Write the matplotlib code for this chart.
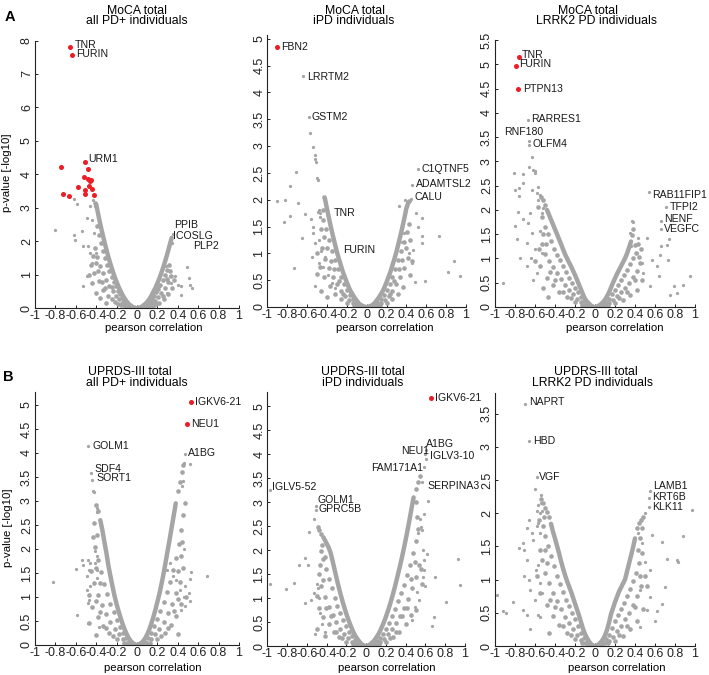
import matplotlib
matplotlib.use("Agg")
import matplotlib.pyplot as plt

plt.rcParams['font.family'] = ['Liberation Sans', 'DejaVu Sans']

# ---------------- data ----------------
x_ticks = [-1, -0.8, -0.6, -0.4, -0.2, 0, 0.2, 0.4, 0.6, 0.8, 1]
x_tick_labels = ['-1', '-0.8', '-0.6', '-0.4', '-0.2', '0', '0.2', '0.4', '0.6', '0.8', '1']

# ---- Panel A1: MoCA total, all PD+ ----
A1_red = [(-0.652, 7.82), (-0.638, 7.57), (-0.511, 4.38), (-0.746, 4.23), (-0.726, 3.42),
          (-0.668, 3.35), (-0.583, 3.63), (-0.521, 3.91), (-0.482, 4.17), (-0.479, 3.86),
          (-0.453, 3.83), (-0.469, 3.64), (-0.446, 3.56), (-0.42, 3.38), (-0.511, 3.54),
          (-0.511, 3.40), (-0.463, 3.79)]
A1_grey_out = [(-0.805, 2.34), (-0.619, 3.26), (-0.586, 3.12), (-0.619, 2.19), (-0.609, 2.04),
               (-0.537, 2.29), (-0.534, 0.65), (-0.489, 2.69), (-0.463, 3.04), (-0.446, 2.64),
               (-0.479, 1.84), (-0.489, 0.95), (-0.436, 3.24), (-0.528, 1.84), (-0.456, 1.64),
               (-0.423, 2.24), (-0.404, 1.64), (-0.446, 1.34), (-0.381, 2.69), (-0.414, 3.04),
               (0.28, 1.25), (0.335, 0.75), (0.375, 0.95), (0.40, 0.70), (0.433, 0.67),
               (0.427, 0.40), (0.489, 1.22), (0.508, 0.90), (0.541, 0.60), (0.52, 0.70),
               (0.32, 0.95), (0.22, 0.65), (0.29, 0.45), (0.35, 2.2), (0.33, 2.05), (0.34, 1.95)]
A1_edge_left = [(-0.01, 0.0), (-0.04, 0.03), (-0.06, 0.07), (-0.08, 0.12), (-0.10, 0.19),
                (-0.12, 0.28), (-0.14, 0.38), (-0.16, 0.50), (-0.18, 0.63), (-0.20, 0.78),
                (-0.22, 0.94), (-0.24, 1.12), (-0.26, 1.31), (-0.28, 1.52), (-0.30, 1.75),
                (-0.32, 1.99), (-0.34, 2.24), (-0.36, 2.51), (-0.38, 2.80), (-0.40, 3.10)]
A1_band_left = [(-0.41, 3.15),
                (-0.05, 0.02), (-0.07, 0.05), (-0.09, 0.09), (-0.11, 0.15), (-0.13, 0.22),
                (-0.15, 0.31), (-0.17, 0.41), (-0.19, 0.52), (-0.21, 0.65), (-0.23, 0.79),
                (-0.25, 0.94), (-0.27, 1.11), (-0.29, 1.29), (-0.31, 1.49), (-0.33, 1.70),
                (-0.35, 1.93), (-0.37, 2.17), (-0.39, 2.45),
                (-0.09, 0.04), (-0.12, 0.09), (-0.15, 0.16), (-0.18, 0.26), (-0.21, 0.37),
                (-0.24, 0.50), (-0.27, 0.66), (-0.30, 0.84), (-0.33, 1.04), (-0.36, 1.27),
                (-0.39, 1.52), (-0.41, 1.80),
                (-0.16, 0.08), (-0.22, 0.18), (-0.28, 0.35), (-0.33, 0.55), (-0.37, 0.80),
                (-0.42, 1.05), (-0.45, 1.30), (-0.40, 0.45), (-0.30, 0.15), (-0.36, 0.30),
                (-0.44, 0.75), (-0.47, 1.00),
                (-0.07, 0.01), (-0.12, 0.04), (-0.19, 0.13), (-0.25, 0.28), (-0.31, 0.60),
                (-0.34, 0.78), (-0.38, 1.10), (-0.40, 1.35), (-0.43, 1.55), (-0.25, 0.62)]
A1_edge_right = [(0.01, 0.0), (0.04, 0.03), (0.06, 0.07), (0.08, 0.12), (0.10, 0.18),
                 (0.12, 0.26), (0.14, 0.36), (0.16, 0.48), (0.18, 0.60), (0.20, 0.74),
                 (0.22, 0.89), (0.24, 1.06), (0.26, 1.24), (0.28, 1.44), (0.30, 1.65),
                 (0.32, 1.88), (0.34, 2.10)]
A1_band_right = [(0.05, 0.02), (0.07, 0.05), (0.09, 0.09), (0.11, 0.14), (0.13, 0.20),
                 (0.15, 0.28), (0.17, 0.37), (0.19, 0.47), (0.21, 0.58), (0.23, 0.70),
                 (0.25, 0.83), (0.27, 0.98), (0.29, 1.14), (0.31, 1.30),
                 (0.09, 0.04), (0.12, 0.08), (0.15, 0.14), (0.18, 0.22), (0.21, 0.32),
                 (0.24, 0.45), (0.27, 0.60), (0.30, 0.78), (0.33, 0.95),
                 (0.16, 0.06), (0.22, 0.15), (0.26, 0.28), (0.30, 0.42), (0.34, 0.60), (0.36, 0.85),
                 (0.07, 0.01), (0.12, 0.03), (0.19, 0.12), (0.25, 0.35), (0.29, 0.88), (0.32, 1.10)]
A1_labels = ['TNR', 'FURIN', 'URM1', 'PPIB', 'ICOSLG', 'PLP2']

# ---- Panel A2: MoCA total, iPD ----
A2_red = [(-0.899, 4.84)]
A2_grey_out = [(-0.638, 4.30), (-0.58, 3.54), (-0.57, 3.25), (-0.537, 2.99), (-0.52, 2.84),
               (-0.517, 2.76), (-0.513, 2.70), (-0.503, 2.40), (-0.493, 2.37), (-0.715, 2.51),
               (-0.772, 2.26), (-0.9, 1.97), (-0.822, 2.0), (-0.695, 1.94), (-0.772, 1.69),
               (-0.829, 1.58), (-0.621, 1.74), (-0.654, 1.29), (-0.732, 0.73), (-0.547, 0.94),
               (-0.52, 0.40), (-0.487, 1.78), (-0.544, 1.49), (-0.537, 1.38), (-0.52, 1.19),
               (-0.56, 1.64), (-0.47, 1.75), (-0.475, 1.80), (-0.472, 1.68), (-0.48, 1.25),
               (-0.48, 0.82), (-0.455, 1.05), (-0.42, 0.94), (-0.44, 0.75), (-0.39, 0.60),
               (-0.35, 0.45), (-0.32, 0.35),
               (0.52, 2.57), (0.46, 2.28), (0.443, 2.01), (0.326, 1.88), (0.386, 2.0),
               (0.403, 1.88), (0.493, 1.75), (0.554, 1.66), (0.513, 1.5), (0.554, 1.33),
               (0.554, 1.19), (0.728, 1.32), (0.883, 0.85), (0.815, 0.66), (0.94, 0.58),
               (0.47, 1.07), (0.426, 1.0), (0.453, 0.82), (0.487, 0.46), (0.587, 0.48),
               (0.352, 1.22), (0.38, 1.38)]
A2_edge_left = [(-0.01, 0.0), (-0.04, 0.02), (-0.06, 0.04), (-0.08, 0.07), (-0.10, 0.12),
                (-0.12, 0.17), (-0.14, 0.23), (-0.16, 0.29), (-0.18, 0.37), (-0.20, 0.46),
                (-0.22, 0.56), (-0.24, 0.66), (-0.26, 0.78), (-0.28, 0.90), (-0.30, 1.03),
                (-0.32, 1.18), (-0.34, 1.33), (-0.36, 1.49), (-0.38, 1.66), (-0.40, 1.84),
                (-0.42, 2.02)]
A2_band_left = [(-0.43, 2.05),
                (-0.05, 0.01), (-0.08, 0.04), (-0.11, 0.08), (-0.14, 0.14), (-0.17, 0.22),
                (-0.20, 0.31), (-0.23, 0.42), (-0.26, 0.55), (-0.29, 0.70), (-0.32, 0.87),
                (-0.35, 1.05), (-0.38, 1.25), (-0.41, 1.45), (-0.44, 1.62),
                (-0.10, 0.03), (-0.14, 0.07), (-0.18, 0.13), (-0.22, 0.20), (-0.26, 0.30),
                (-0.30, 0.42), (-0.34, 0.56), (-0.38, 0.72), (-0.42, 0.90), (-0.45, 1.10),
                (-0.20, 0.08), (-0.26, 0.14), (-0.32, 0.25), (-0.37, 0.40), (-0.43, 0.55),
                (-0.47, 0.75), (-0.50, 0.62), (-0.46, 0.30), (-0.40, 0.18), (-0.50, 1.00),
                (-0.07, 0.01), (-0.13, 0.04), (-0.24, 0.24), (-0.28, 0.48), (-0.33, 0.70),
                (-0.36, 0.85), (-0.40, 1.10), (-0.43, 1.30), (-0.44, 1.80), (-0.46, 1.45)]
A2_edge_right = [(0.01, 0.0), (0.04, 0.02), (0.06, 0.04), (0.08, 0.07), (0.10, 0.12),
                 (0.12, 0.17), (0.14, 0.23), (0.16, 0.29), (0.18, 0.37), (0.20, 0.46),
                 (0.22, 0.56), (0.24, 0.66), (0.26, 0.78), (0.28, 0.90), (0.30, 1.03),
                 (0.32, 1.18), (0.34, 1.33), (0.36, 1.49), (0.38, 1.66), (0.40, 1.84),
                 (0.42, 1.95)]
A2_band_right = [(0.43, 1.98),
                 (0.05, 0.01), (0.08, 0.04), (0.11, 0.08), (0.14, 0.14), (0.17, 0.22),
                 (0.20, 0.31), (0.23, 0.42), (0.26, 0.55), (0.29, 0.70), (0.32, 0.87),
                 (0.35, 1.05), (0.38, 1.22), (0.41, 1.40),
                 (0.10, 0.03), (0.14, 0.07), (0.18, 0.13), (0.22, 0.20), (0.26, 0.30),
                 (0.30, 0.42), (0.34, 0.56), (0.38, 0.72), (0.42, 0.92),
                 (0.20, 0.08), (0.26, 0.14), (0.32, 0.25), (0.37, 0.38), (0.44, 0.60), (0.46, 0.85),
                 (0.07, 0.01), (0.13, 0.04), (0.24, 0.24), (0.28, 0.48), (0.33, 0.70),
                 (0.36, 0.88), (0.40, 1.10), (0.43, 1.55), (0.44, 1.25)]
A2_labels = ['FBN2', 'LRRTM2', 'GSTM2', 'TNR', 'FURIN', 'C1QTNF5', 'ADAMTSL2', 'CALU']

# ---- Panel A3: MoCA total, LRRK2 PD ----
A3_red = [(-0.76, 5.16), (-0.793, 4.97), (-0.767, 4.49)]
A3_grey_out = [(-0.667, 3.85), (-0.657, 3.41), (-0.657, 3.33), (-0.627, 3.1), (-0.663, 2.89),
               (-0.723, 2.74), (-0.617, 2.83), (-0.6, 2.8), (-0.605, 2.77), (-0.81, 2.76),
               (-0.8, 2.41), (-0.76, 2.45), (-0.723, 2.55), (-0.757, 2.28), (-0.633, 2.41),
               (-0.567, 2.48), (-0.583, 2.35), (-0.55, 2.31), (-0.567, 2.21), (-0.773, 1.95),
               (-0.717, 1.81), (-0.8, 1.66), (-0.65, 1.93), (-0.667, 1.73), (-0.633, 1.52),
               (-0.783, 1.40), (-0.683, 1.32), (-0.75, 1.01), (-0.643, 1.01), (-0.917, 0.49),
               (-0.683, 0.84), (-0.583, 0.70), (-0.533, 1.11), (-0.55, 1.56), (-0.517, 2.04),
               (-0.533, 1.93), (-0.6, 1.2), (-0.62, 0.55),
               (0.543, 2.36), (0.71, 2.06), (0.657, 1.78), (0.657, 1.60), (0.373, 1.78),
               (0.38, 1.76), (0.35, 1.52), (0.357, 1.25), (0.517, 1.42), (0.433, 1.42),
               (0.66, 1.25), (0.743, 1.40), (0.723, 1.28), (0.65, 1.08), (0.733, 0.97),
               (0.573, 0.97), (0.623, 0.84), (0.643, 0.63), (0.883, 0.46), (0.79, 0.44),
               (0.75, 0.25), (0.823, 0.29), (0.95, 0.63), (0.55, 0.43), (0.483, 0.70),
               (0.467, 0.91), (0.417, 1.11)]
A3_edge_left = [(-0.01, 0.0), (-0.04, 0.03), (-0.06, 0.07), (-0.08, 0.11), (-0.10, 0.17),
                (-0.12, 0.26), (-0.14, 0.36), (-0.16, 0.46), (-0.18, 0.56), (-0.20, 0.66),
                (-0.22, 0.75), (-0.24, 0.84), (-0.26, 0.92), (-0.28, 1.00), (-0.30, 1.09),
                (-0.32, 1.19), (-0.34, 1.30), (-0.36, 1.40), (-0.38, 1.50), (-0.40, 1.60),
                (-0.42, 1.70), (-0.44, 1.80), (-0.46, 1.90), (-0.48, 2.00)]
A3_band_left = [(-0.50, 2.10), (-0.52, 2.20), (-0.54, 2.27),
                (-0.05, 0.02), (-0.08, 0.06), (-0.11, 0.12), (-0.14, 0.20), (-0.17, 0.30),
                (-0.20, 0.40), (-0.23, 0.50), (-0.26, 0.60), (-0.29, 0.72), (-0.32, 0.84),
                (-0.35, 0.96), (-0.38, 1.08), (-0.41, 1.20), (-0.44, 1.35), (-0.47, 1.50),
                (-0.50, 1.65),
                (-0.10, 0.05), (-0.14, 0.10), (-0.18, 0.17), (-0.22, 0.26), (-0.26, 0.36),
                (-0.30, 0.46), (-0.34, 0.58), (-0.38, 0.70), (-0.42, 0.82), (-0.46, 0.95),
                (-0.50, 1.10), (-0.53, 1.30),
                (-0.20, 0.10), (-0.28, 0.20), (-0.36, 0.30), (-0.42, 0.45), (-0.48, 0.60),
                (-0.55, 0.85), (-0.47, 0.20), (-0.56, 1.20), (-0.60, 0.95), (-0.52, 0.40),
                (-0.07, 0.01), (-0.13, 0.05), (-0.24, 0.18), (-0.32, 0.30), (-0.40, 0.56),
                (-0.45, 0.72), (-0.49, 1.30), (-0.52, 1.50), (-0.53, 1.85), (-0.57, 2.05)]
A3_edge_right = [(0.01, 0.0), (0.04, 0.03), (0.06, 0.06), (0.08, 0.10), (0.10, 0.15),
                 (0.12, 0.22), (0.14, 0.30), (0.16, 0.40), (0.18, 0.50), (0.20, 0.59),
                 (0.22, 0.68), (0.24, 0.76), (0.26, 0.84), (0.28, 0.92), (0.30, 1.00),
                 (0.32, 1.10), (0.34, 1.22), (0.36, 1.35)]
A3_band_right = [(0.37, 1.48), (0.38, 1.60),
                 (0.05, 0.02), (0.08, 0.05), (0.11, 0.10), (0.14, 0.17), (0.17, 0.26),
                 (0.20, 0.36), (0.23, 0.46), (0.26, 0.56), (0.29, 0.66), (0.32, 0.77),
                 (0.35, 0.88), (0.38, 1.00), (0.41, 1.12),
                 (0.10, 0.04), (0.14, 0.08), (0.18, 0.14), (0.22, 0.22), (0.26, 0.30),
                 (0.30, 0.40), (0.34, 0.50), (0.38, 0.62), (0.42, 0.75), (0.45, 0.90),
                 (0.20, 0.08), (0.28, 0.15), (0.35, 0.25), (0.42, 0.35), (0.47, 0.55),
                 (0.43, 1.30), (0.46, 1.20),
                 (0.07, 0.01), (0.13, 0.05), (0.24, 0.18), (0.32, 0.30), (0.40, 0.56),
                 (0.44, 1.02), (0.40, 1.28)]
A3_labels = ['TNR', 'FURIN', 'PTPN13', 'RARRES1', 'RNF180', 'OLFM4',
             'RAB11FIP1', 'TFPI2', 'NENF', 'VEGFC']

# ---- Panel B1: UPDRS-III total, all PD+ ----
B1_red = [(0.531, 5.07), (0.492, 4.60)]
B1_grey_out = [(0.466, 3.97), (-0.479, 4.14), (-0.453, 3.59), (-0.443, 3.44), (-0.43, 3.21),
               (-0.42, 3.19), (-0.397, 2.85), (-0.397, 2.77), (0.515, 3.77), (0.456, 3.80),
               (0.44, 3.31), (0.45, 3.42), (0.46, 1.99), (0.466, 1.22), (0.515, 1.37),
               (0.46, 1.01), (0.352, 1.43), (0.384, 1.35), (0.417, 1.15), (0.508, 1.08),
               (0.521, 0.91), (0.531, 1.53), (0.684, 1.43), (0.466, 0.82), (0.433, 0.73),
               (0.32, 1.71), (0.29, 1.57), (-0.821, 1.32), (-0.6, 1.58), (-0.528, 1.67),
               (-0.479, 1.78), (-0.463, 1.71), (-0.469, 1.57), (-0.489, 1.43), (-0.463, 1.22),
               (-0.489, 1.15), (-0.469, 0.94), (-0.479, 0.87), (-0.479, 0.45), (-0.586, 0.63),
               (-0.544, 1.78), (-0.414, 1.95), (-0.397, 1.85), (-0.414, 1.71), (-0.397, 1.57),
               (-0.397, 1.40), (-0.371, 0.38)]
B1_edge_left = [(-0.01, 0.0), (-0.04, 0.04), (-0.06, 0.08), (-0.08, 0.14), (-0.10, 0.22),
                (-0.12, 0.32), (-0.14, 0.43), (-0.16, 0.56), (-0.18, 0.70), (-0.20, 0.85),
                (-0.22, 1.02), (-0.24, 1.22), (-0.26, 1.43), (-0.28, 1.65), (-0.30, 1.92),
                (-0.32, 2.15), (-0.34, 2.40), (-0.36, 2.60)]
B1_band_left = [(-0.38, 2.80), (-0.40, 2.92),
                (-0.05, 0.02), (-0.08, 0.07), (-0.11, 0.15), (-0.14, 0.25), (-0.17, 0.38),
                (-0.20, 0.52), (-0.23, 0.68), (-0.26, 0.86), (-0.29, 1.06), (-0.32, 1.28),
                (-0.35, 1.52), (-0.38, 1.78), (-0.41, 2.05), (-0.43, 2.25),
                (-0.10, 0.05), (-0.14, 0.12), (-0.18, 0.22), (-0.22, 0.34), (-0.26, 0.48),
                (-0.30, 0.64), (-0.34, 0.84), (-0.38, 1.05), (-0.42, 1.30), (-0.45, 1.55),
                (-0.20, 0.12), (-0.27, 0.25), (-0.33, 0.40), (-0.38, 0.58), (-0.44, 0.80),
                (-0.47, 1.05), (-0.40, 0.20), (-0.47, 0.45),
                (-0.07, 0.01), (-0.13, 0.05), (-0.24, 0.18), (-0.30, 0.35), (-0.36, 0.68),
                (-0.40, 0.92), (-0.36, 1.30), (-0.40, 1.60), (-0.39, 2.30), (-0.42, 2.55)]
B1_edge_right = [(0.01, 0.0), (0.04, 0.04), (0.06, 0.08), (0.08, 0.14), (0.10, 0.22),
                 (0.12, 0.32), (0.14, 0.44), (0.16, 0.58), (0.18, 0.73), (0.20, 0.90),
                 (0.22, 1.07), (0.24, 1.27), (0.26, 1.48), (0.28, 1.72), (0.30, 1.96),
                 (0.32, 2.20), (0.34, 2.45), (0.36, 2.70), (0.38, 2.95)]
B1_band_right = [(0.40, 3.20), (0.42, 3.40), (0.44, 3.60), (0.45, 3.75),
                 (0.05, 0.02), (0.08, 0.07), (0.11, 0.15), (0.14, 0.26), (0.17, 0.39),
                 (0.20, 0.54), (0.23, 0.71), (0.26, 0.90), (0.29, 1.10), (0.32, 1.32),
                 (0.35, 1.56), (0.38, 1.82), (0.41, 2.10), (0.43, 2.40), (0.45, 2.70),
                 (0.10, 0.05), (0.14, 0.12), (0.18, 0.22), (0.22, 0.34), (0.26, 0.48),
                 (0.30, 0.66), (0.34, 0.86), (0.38, 1.08), (0.42, 1.32), (0.45, 1.60),
                 (0.20, 0.12), (0.27, 0.25), (0.33, 0.42), (0.38, 0.60), (0.43, 0.85),
                 (0.48, 1.00), (0.40, 0.22),
                 (0.07, 0.01), (0.13, 0.05), (0.24, 0.18), (0.30, 0.35), (0.36, 0.70),
                 (0.40, 0.95), (0.40, 1.55), (0.43, 1.85), (0.44, 2.15), (0.47, 2.95)]
B1_labels = ['IGKV6-21', 'NEU1', 'GOLM1', 'SDF4', 'SORT1', 'A1BG']

# ---- Panel B2: UPDRS-III total, iPD ----
B2_red = [(0.655, 5.18)]
B2_grey_out = [(-0.976, 3.26), (-0.51, 2.92), (-0.51, 2.83), (0.605, 4.10), (0.598, 4.0),
               (0.605, 3.91), (0.581, 3.74), (0.564, 3.42), (-0.524, 2.64), (-0.578, 2.38),
               (-0.618, 1.83), (-0.676, 1.69), (-0.591, 1.69), (-0.726, 1.31), (-0.811, 1.18),
               (-0.973, 1.29), (-0.618, 0.90), (-0.557, 0.97), (-0.517, 0.25), (-0.53, 1.10),
               (-0.50, 1.30), (-0.49, 1.22), (-0.48, 1.0), (-0.47, 0.68), (-0.45, 0.45),
               (-0.42, 0.30), (0.625, 3.03), (0.588, 2.75), (0.54, 2.65), (0.55, 2.48),
               (0.56, 2.42), (0.52, 2.35), (0.574, 2.0), (0.615, 1.93), (0.581, 1.79),
               (0.59, 1.58), (0.58, 1.45), (0.60, 1.25), (0.693, 1.43), (0.953, 1.27),
               (0.807, 0.92), (0.682, 0.61), (0.666, 0.42), (0.929, 1.81), (0.514, 1.13),
               (0.53, 0.96), (0.497, 0.82), (0.463, 0.54)]
B2_edge_left = [(-0.01, 0.0), (-0.04, 0.03), (-0.06, 0.07), (-0.08, 0.12), (-0.10, 0.18),
                (-0.12, 0.25), (-0.14, 0.34), (-0.16, 0.44), (-0.18, 0.55), (-0.20, 0.67),
                (-0.22, 0.80), (-0.24, 0.94), (-0.26, 1.09), (-0.28, 1.25), (-0.30, 1.42),
                (-0.32, 1.60), (-0.34, 1.78), (-0.36, 1.95), (-0.38, 2.06), (-0.40, 2.14),
                (-0.42, 2.22)]
B2_band_left = [(-0.44, 2.28), (-0.46, 2.34), (-0.48, 2.42), (-0.49, 2.49),
                (-0.05, 0.02), (-0.08, 0.06), (-0.11, 0.12), (-0.14, 0.20), (-0.17, 0.30),
                (-0.20, 0.41), (-0.23, 0.54), (-0.26, 0.68), (-0.29, 0.84), (-0.32, 1.01),
                (-0.35, 1.20), (-0.38, 1.40), (-0.41, 1.60), (-0.44, 1.82), (-0.46, 1.98),
                (-0.10, 0.04), (-0.14, 0.09), (-0.18, 0.16), (-0.22, 0.25), (-0.26, 0.36),
                (-0.30, 0.50), (-0.34, 0.65), (-0.38, 0.82), (-0.42, 1.02), (-0.46, 1.25),
                (-0.48, 1.50),
                (-0.20, 0.08), (-0.27, 0.18), (-0.33, 0.30), (-0.38, 0.45), (-0.44, 0.60),
                (-0.48, 0.80), (-0.50, 1.05), (-0.42, 0.20), (-0.50, 0.35),
                (-0.07, 0.01), (-0.13, 0.04), (-0.24, 0.16), (-0.30, 0.30), (-0.36, 0.62),
                (-0.41, 0.80), (-0.44, 1.38), (-0.45, 2.10), (-0.47, 1.70), (-0.42, 1.85)]
B2_edge_right = [(0.01, 0.0), (0.04, 0.03), (0.06, 0.07), (0.08, 0.11), (0.10, 0.17),
                 (0.12, 0.23), (0.14, 0.31), (0.16, 0.40), (0.18, 0.50), (0.20, 0.61),
                 (0.22, 0.73), (0.24, 0.86), (0.26, 1.00), (0.28, 1.15), (0.30, 1.31),
                 (0.32, 1.48), (0.34, 1.65), (0.36, 1.83), (0.38, 2.02), (0.40, 2.22),
                 (0.42, 2.43), (0.44, 2.65), (0.46, 2.88), (0.48, 3.10)]
B2_band_right = [(0.50, 3.28), (0.52, 3.42), (0.54, 3.55),
                 (0.05, 0.02), (0.08, 0.05), (0.11, 0.10), (0.14, 0.17), (0.17, 0.26),
                 (0.20, 0.36), (0.23, 0.48), (0.26, 0.62), (0.29, 0.77), (0.32, 0.93),
                 (0.35, 1.10), (0.38, 1.28), (0.41, 1.48), (0.44, 1.70), (0.47, 1.95),
                 (0.50, 2.20), (0.52, 2.45),
                 (0.10, 0.04), (0.14, 0.08), (0.18, 0.15), (0.22, 0.24), (0.26, 0.35),
                 (0.30, 0.48), (0.34, 0.63), (0.38, 0.80), (0.42, 0.98), (0.46, 1.20),
                 (0.50, 1.45), (0.53, 1.70),
                 (0.20, 0.08), (0.27, 0.18), (0.33, 0.30), (0.40, 0.45), (0.45, 0.65),
                 (0.50, 0.75), (0.55, 1.60), (0.57, 1.30),
                 (0.07, 0.01), (0.13, 0.04), (0.24, 0.16), (0.30, 0.30), (0.36, 0.62),
                 (0.41, 0.80), (0.45, 1.40), (0.49, 1.75), (0.51, 2.70), (0.50, 3.00)]
B2_labels = ['IGKV6-21', 'A1BG', 'NEU1', 'IGLV3-10', 'FAM171A1', 'SERPINA3',
             'IGLV5-52', 'GOLM1', 'GPRC5B']

# ---- Panel B3: UPDRS-III total, LRRK2 PD ----
B3_red = []
B3_grey_out = [(-0.70, 3.65), (-0.657, 3.08), (-0.583, 2.55), (0.55, 2.33), (0.54, 2.23),
               (0.54, 2.10), (-0.60, 2.36), (-0.543, 2.27), (-0.54, 2.22), (-0.543, 2.15),
               (-0.567, 2.12), (-0.583, 2.03), (-0.55, 2.0), (-0.533, 2.03), (-0.657, 1.90),
               (-0.683, 1.77), (-0.723, 1.55), (-0.757, 1.47), (-0.71, 1.45), (-0.683, 1.30),
               (-0.71, 1.05), (-0.657, 1.0), (-0.65, 0.84), (-0.59, 1.15), (-0.567, 1.22),
               (-0.55, 0.95), (-0.533, 0.80), (-0.567, 0.47), (-0.55, 0.44), (-0.65, 0.25),
               (-0.723, 0.54), (-0.817, 0.67), (-0.917, 0.52), (-0.893, 0.49), (-0.983, 0.77),
               (-0.683, 0.47), (-0.60, 0.70), (-0.633, 1.70), (-0.617, 1.60), (-0.583, 1.80),
               (-0.567, 1.85), (-0.55, 1.70),
               (0.50, 2.0), (0.483, 1.95), (0.433, 1.70), (0.467, 1.55), (0.567, 1.67),
               (0.667, 1.57), (0.883, 1.66), (0.967, 2.05), (0.717, 1.31), (0.823, 1.29),
               (0.83, 1.27), (0.55, 1.15), (0.70, 0.89), (0.667, 0.63), (0.617, 0.52),
               (0.60, 0.37), (0.55, 0.74), (0.517, 0.54), (0.45, 0.29), (0.45, 0.84), (0.50, 1.26)]
B3_edge_left = [(-0.01, 0.0), (-0.04, 0.03), (-0.06, 0.07), (-0.08, 0.12), (-0.10, 0.18),
                (-0.12, 0.26), (-0.14, 0.36), (-0.16, 0.46), (-0.18, 0.55), (-0.20, 0.64),
                (-0.22, 0.73), (-0.24, 0.82), (-0.26, 0.90), (-0.28, 0.98), (-0.30, 1.07),
                (-0.32, 1.17), (-0.34, 1.28), (-0.36, 1.40), (-0.38, 1.51), (-0.40, 1.62),
                (-0.42, 1.72), (-0.44, 1.84)]
B3_band_left = [(-0.46, 1.95), (-0.48, 2.02), (-0.50, 2.08), (-0.52, 2.15), (-0.54, 2.22),
                (-0.05, 0.02), (-0.08, 0.06), (-0.11, 0.12), (-0.14, 0.20), (-0.17, 0.30),
                (-0.20, 0.40), (-0.23, 0.50), (-0.26, 0.60), (-0.29, 0.70), (-0.32, 0.82),
                (-0.35, 0.94), (-0.38, 1.06), (-0.41, 1.20), (-0.44, 1.35), (-0.47, 1.50),
                (-0.50, 1.65), (-0.52, 1.80),
                (-0.10, 0.04), (-0.14, 0.09), (-0.18, 0.16), (-0.22, 0.25), (-0.26, 0.34),
                (-0.30, 0.44), (-0.34, 0.56), (-0.38, 0.68), (-0.42, 0.80), (-0.46, 0.95),
                (-0.50, 1.10), (-0.53, 1.30),
                (-0.20, 0.10), (-0.28, 0.20), (-0.36, 0.32), (-0.42, 0.45), (-0.48, 0.62),
                (-0.55, 0.80), (-0.46, 0.20), (-0.58, 1.05), (-0.55, 1.45),
                (-0.07, 0.01), (-0.13, 0.05), (-0.24, 0.16), (-0.32, 0.30), (-0.40, 0.58),
                (-0.45, 0.70), (-0.48, 1.25), (-0.50, 1.45), (-0.51, 1.95), (-0.56, 1.90)]
B3_edge_right = [(0.01, 0.0), (0.04, 0.03), (0.06, 0.06), (0.08, 0.10), (0.10, 0.16),
                 (0.12, 0.24), (0.14, 0.35), (0.16, 0.48), (0.18, 0.57), (0.20, 0.66),
                 (0.22, 0.74), (0.24, 0.82), (0.26, 0.88), (0.28, 0.94), (0.30, 1.00),
                 (0.32, 1.12), (0.34, 1.24), (0.36, 1.36), (0.38, 1.48), (0.40, 1.62)]
B3_band_right = [(0.42, 1.77), (0.44, 1.85), (0.46, 1.90), (0.48, 1.95),
                 (0.05, 0.02), (0.08, 0.05), (0.11, 0.10), (0.14, 0.17), (0.17, 0.27),
                 (0.20, 0.37), (0.23, 0.47), (0.26, 0.56), (0.29, 0.65), (0.32, 0.75),
                 (0.35, 0.86), (0.38, 0.98), (0.41, 1.10), (0.44, 1.25), (0.47, 1.40),
                 (0.10, 0.04), (0.14, 0.08), (0.18, 0.14), (0.22, 0.22), (0.26, 0.30),
                 (0.30, 0.40), (0.34, 0.50), (0.38, 0.62), (0.42, 0.75), (0.46, 0.90),
                 (0.50, 1.05),
                 (0.20, 0.08), (0.28, 0.15), (0.35, 0.25), (0.42, 0.38), (0.48, 0.55),
                 (0.52, 0.90), (0.45, 1.05),
                 (0.07, 0.01), (0.13, 0.05), (0.24, 0.16), (0.32, 0.30), (0.40, 0.58),
                 (0.43, 1.45), (0.45, 1.62), (0.47, 1.78)]
B3_labels = ['NAPRT', 'HBD', 'VGF', 'LAMB1', 'KRT6B', 'KLK11']

# ---------------- layout (pixels / label placement) ----------------
W, H = 709, 675
GREY = '#a5a5a5'
RED = '#ee1c24'
FS_TICK = 9.0
FS_TITLE = 8.8
FS_AXIS = 8.2
FS_GENE = 7.6

panels = [
    dict(grey=A1_grey_out, bands=[A1_band_left, A1_band_right], edges=[A1_edge_left, A1_edge_right],
         red=A1_red, labels=A1_labels,
         lpos=[(-0.609, 7.87), (-0.60, 7.60), (-0.479, 4.45), (0.368, 2.49), (0.352, 2.16), (0.547, 1.84)],
         box=(35, 239, 40.5, 308), ylim=8.0, ystep=1.0, ymax_tick=8),
    dict(grey=A2_grey_out, bands=[A2_band_left, A2_band_right], edges=[A2_edge_left, A2_edge_right],
         red=A2_red, labels=A2_labels,
         lpos=[(-0.856, 4.84), (-0.604, 4.29), (-0.554, 3.54), (-0.336, 1.75), (-0.235, 1.06),
               (0.554, 2.57), (0.493, 2.29), (0.48, 2.05)],
         box=(267.3, 466, 35, 307), ylim=5.07, ystep=0.5, ymax_tick=5),
    dict(grey=A3_grey_out, bands=[A3_band_left, A3_band_right], edges=[A3_edge_left, A3_edge_right],
         red=A3_red, labels=A3_labels,
         lpos=[(-0.733, 5.19), (-0.76, 5.00), (-0.717, 4.49), (-0.643, 3.88), (-0.91, 3.60),
               (-0.627, 3.36), (0.567, 2.31), (0.743, 2.07), (0.693, 1.81), (0.69, 1.60)],
         box=(495, 695, 40, 307), ylim=5.5, ystep=0.5, ymax_tick=5.5),
    dict(grey=B1_grey_out, bands=[B1_band_left, B1_band_right], edges=[B1_edge_left, B1_edge_right],
         red=B1_red, labels=B1_labels,
         lpos=[(0.564, 5.07), (0.531, 4.60), (-0.436, 4.15), (-0.414, 3.67), (-0.397, 3.47), (0.498, 4.00)],
         box=(35, 239, 392, 645), ylim=5.27, ystep=0.5, ymax_tick=5),
    dict(grey=B2_grey_out, bands=[B2_band_left, B2_band_right], edges=[B2_edge_left, B2_edge_right],
         red=B2_red, labels=B2_labels,
         lpos=[(0.693, 5.18), (0.605, 4.21), (0.351, 4.07), (0.649, 3.96), (0.05, 3.72),
               (0.625, 3.33), (-0.956, 3.32), (-0.49, 3.04), (-0.483, 2.85)],
         box=(267.3, 465, 392, 646), ylim=5.3, ystep=0.5, ymax_tick=5),
    dict(grey=B3_grey_out, bands=[B3_band_left, B3_band_right], edges=[B3_edge_left, B3_edge_right],
         red=B3_red, labels=B3_labels,
         lpos=[(-0.657, 3.67), (-0.623, 3.08), (-0.557, 2.55), (0.577, 2.41), (0.567, 2.25), (0.567, 2.10)],
         box=(495, 695, 393, 646), ylim=3.81, ystep=0.5, ymax_tick=3.5),
]

titles = [
    [("MoCA total", 137, 11), ("all PD+ individuals", 137, 21.5)],
    [("MoCA total", 355, 11), ("iPD individuals", 354, 21.5)],
    [("MoCA total", 588, 11), ("LRRK2 PD individuals", 596, 21.5)],
    [("UPRDS-III total", 130, 372), ("all PD+ individuals", 137, 382.5)],
    [("UPDRS-III total", 363, 372), ("iPD individuals", 363, 382.5)],
    [("UPDRS-III total", 596, 372), ("LRRK2 PD individuals", 593, 382.5)],
]
xlabel_pos = [(154, 328), (385, 328), (615, 328), (153, 668), (387, 668), (617, 668)]

fig = plt.figure(figsize=(W / 100, H / 100), dpi=100)


def fmt(v):
    return ('%.1f' % v).rstrip('0').rstrip('.')


for i, p in enumerate(panels):
    l, r, t, b = p['box']
    ax = fig.add_axes([l / W, 1 - b / H, (r - l) / W, (b - t) / H])
    # dense inner edge of the volcano (a continuous run of points)
    for edge in p['edges']:
        ax.plot([q[0] for q in edge], [q[1] for q in edge], color=GREY, lw=3.2,
                solid_capstyle='round', solid_joinstyle='round', zorder=2)
    for band in p['bands']:
        ax.scatter([q[0] for q in band], [q[1] for q in band], s=11, c=GREY,
                   linewidths=0, zorder=2)
    ax.scatter([q[0] for q in p['grey']], [q[1] for q in p['grey']], s=5.5, c=GREY,
               linewidths=0, zorder=2)
    if p['red']:
        ax.scatter([q[0] for q in p['red']], [q[1] for q in p['red']], s=13, c=RED,
                   linewidths=0, zorder=3)
    for lab, (lx, ly) in zip(p['labels'], p['lpos']):
        ax.text(lx, ly, lab, fontsize=FS_GENE, ha='left', va='center', color='#1a1a1a',
                clip_on=False, zorder=4)
    ax.set_xlim(-1, 1)
    ax.set_ylim(0, p['ylim'])
    ax.set_xticks(x_ticks)
    ax.set_xticklabels(x_tick_labels, fontsize=FS_TICK)
    yt = []
    v = 0.0
    while v <= p['ymax_tick'] + 1e-9:
        yt.append(v)
        v += p['ystep']
    ax.set_yticks(yt)
    ax.set_yticklabels([fmt(v) for v in yt], fontsize=FS_TICK, rotation=90, va='center')
    for s in ['top', 'right']:
        ax.spines[s].set_visible(False)
    for s in ['left', 'bottom']:
        ax.spines[s].set_linewidth(0.8)
        ax.spines[s].set_color('#222222')
    ax.tick_params(direction='in', length=2, width=0.7, pad=1.5, colors='#222222')
    ax.set_facecolor('none')
    for txt, tx, ty in titles[i]:
        fig.text(tx / W, 1 - ty / H, txt, fontsize=FS_TITLE, ha='center', va='center')
    xx, xy = xlabel_pos[i]
    fig.text(xx / W, 1 - xy / H, 'pearson correlation', fontsize=FS_AXIS, ha='center', va='center')

fig.text(7 / W, 1 - 173 / H, 'p-value [-log10]', fontsize=FS_AXIS, rotation=90, ha='center', va='center')
fig.text(8 / W, 1 - 528 / H, 'p-value [-log10]', fontsize=FS_AXIS, rotation=90, ha='center', va='center')
fig.text(10 / W, 1 - 17 / H, 'A', fontsize=10.5, fontweight='bold', ha='center', va='center')
fig.text(8 / W, 1 - 377 / H, 'B', fontsize=10.5, fontweight='bold', ha='center', va='center')

fig.savefig('out.png', dpi=100)
